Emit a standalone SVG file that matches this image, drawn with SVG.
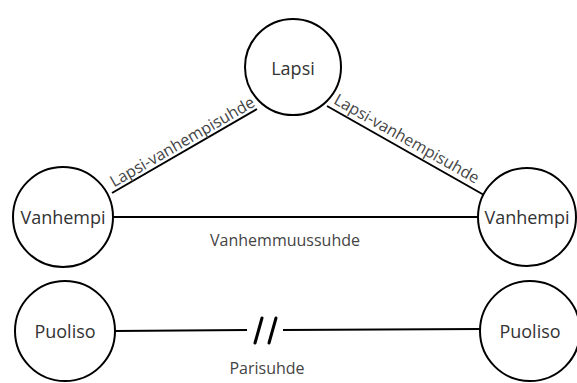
<svg xmlns="http://www.w3.org/2000/svg" width="577" height="383" viewBox="0 0 577 383">
<style>
.node circle{fill:#fff;stroke:#000;stroke-width:2}
.node text{font-family:"Open Sans",sans-serif;font-size:18px;fill:#333;text-anchor:middle;dominant-baseline:central}
.edge line{stroke:#000;stroke-width:2}
.edge .sl{stroke-width:3;stroke-linecap:round}
.lbl{font-family:"Open Sans",sans-serif;font-size:16px;fill:#444;text-anchor:middle}
</style>
<rect width="577" height="383" fill="#fff"/>
<g id="connectors" class="edge">
<line x1="112" y1="193" x2="257" y2="109"/>
<line x1="327" y1="106" x2="484" y2="195"/>
<line x1="112" y1="217" x2="479" y2="217"/>
<line x1="115" y1="331" x2="247" y2="330"/>
<line x1="283" y1="330" x2="480" y2="329"/>
<line class="sl" x1="262" y1="318" x2="255" y2="343"/>
<line class="sl" x1="276" y1="318" x2="269" y2="343"/>
<text class="lbl" transform="translate(185,146.5) rotate(-30)">Lapsi-vanhempisuhde</text>
<text class="lbl" transform="translate(404,143.5) rotate(29.5)">Lapsi-vanhempisuhde</text>
<text class="lbl" x="285" y="246">Vanhemmuussuhde</text>
<text class="lbl" x="267" y="374">Parisuhde</text>
</g>
<g id="lapsi" class="node"><circle cx="293" cy="67" r="48"/><text x="293" y="68">Lapsi</text></g>
<g id="vanhempi1" class="node"><circle cx="63" cy="217" r="50"/><text x="63" y="217">Vanhempi</text></g>
<g id="vanhempi2" class="node"><circle cx="527" cy="217" r="49"/><text x="527" y="217">Vanhempi</text></g>
<g id="puoliso1" class="node"><circle cx="65" cy="331" r="50"/><text x="65" y="331">Puoliso</text></g>
<g id="puoliso2" class="node"><circle cx="530" cy="331" r="50"/><text x="530" y="331">Puoliso</text></g>
</svg>
